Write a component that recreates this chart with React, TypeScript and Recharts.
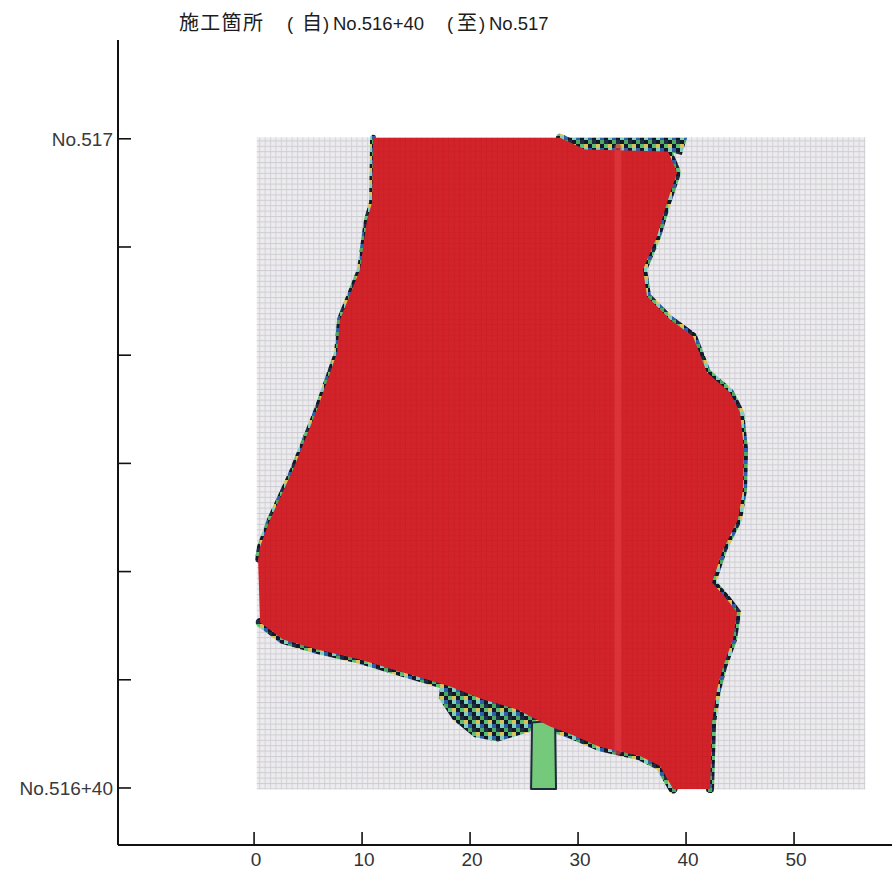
import React from 'react';
import { ScatterChart, Scatter, XAxis, YAxis } from 'recharts';

// ---- axis ticks & labels ----
const xTicks = [0, 10, 20, 30, 40, 50];
const yTicks = [0, 10, 20, 30, 40, 50, 60];
const yTickLabels = ['No.516+40', '', '', '', '', '', 'No.517'];
const titleParts = ['施工箇所', '(', '自', ')', 'No.516+40', '(', '至', ')', 'No.517'];

// ---- measured area (grey mesh) ----
const gridX = [0.25, 56.6, 56.6, 0.25];
const gridY = [-0.15, -0.15, 60.15, 60.15];

// ---- compacted region outline (red) ----
const redX = [11.02, 28.33, 30.65, 38.33, 39.17, 38.24, 37.31, 36.02, 36.39, 38.52, 40.65, 41.94, 44.07, 45.0, 45.37, 45.28, 44.81, 43.43, 42.41, 43.8, 44.72, 44.35, 43.43, 42.87, 42.41, 42.22, 38.8, 37.59, 35.74, 32.04, 29.26, 27.41, 24.35, 21.2, 18.15, 16.02, 12.87, 9.81, 5.83, 2.69, 0.56, 0.37, 0.56, 1.48, 3.61, 5.83, 7.69, 7.96, 9.81, 10.46, 10.93];
const redY = [60.1, 60.1, 59.0, 58.83, 56.89, 54.11, 50.97, 47.92, 45.43, 43.3, 41.73, 38.4, 36.55, 34.7, 31.29, 27.59, 24.81, 22.04, 18.99, 17.42, 16.22, 13.73, 11.23, 9.11, 6.05, -0.1, -0.1, 2.03, 2.96, 3.79, 4.99, 5.68, 7.26, 8.18, 9.38, 10.03, 10.95, 11.88, 12.8, 13.72, 15.3, 21.12, 22.32, 24.81, 29.44, 34.98, 40.25, 43.3, 47.92, 52.54, 54.11];

// ---- mixed-colour patches (under-compacted cells) ----
const topPatchX = [28.33, 40.1, 39.6, 38.33, 30.65];
const topPatchY = [60.1, 60.1, 58.5, 58.83, 59.0];
const lowPatchX = [17.22, 24.63, 26.02, 25.56, 22.6, 20.4, 18.4, 17.1];
const lowPatchY = [9.29, 7.07, 6.15, 5.2, 4.3, 4.7, 6.3, 8.3];
const stemX = [25.74, 27.87, 27.96, 25.65];
const stemY = [6.05, 6.24, -0.1, -0.1];

// ---- lighter roller track inside red ----
const stripeX = [33.7, 33.7];
const stripeY = [3.4, 59.2];

const toPts = (xs: number[], ys: number[]) => xs.map((x, i) => ({ x, y: ys[i] }));

const gridPts = toPts(gridX, gridY);
const redPts = toPts(redX, redY);
const fringeA = redPts.slice(1, 26);
const fringeB = redPts.slice(26, 41);
const fringeC = [...redPts.slice(41), redPts[0]];
const topPatchPts = toPts(topPatchX, topPatchY);
const lowPatchPts = toPts(lowPatchX, lowPatchY);
const stemPts = toPts(stemX, stemY);
const stripePts = toPts(stripeX, stripeY);

const noDot = () => <g />;

const makeLine =
  (o: { fill: string; stroke?: string; strokeWidth?: number; close?: boolean; opacity?: number }) =>
  (props: any) => {
    const pts: { x: number; y: number }[] = props.points || [];
    if (pts.length < 2) return <g />;
    const d =
      pts.map((p, i) => `${i === 0 ? 'M' : 'L'}${p.x.toFixed(2)},${p.y.toFixed(2)}`).join(' ') +
      (o.close ? ' Z' : '');
    return (
      <path
        d={d}
        fill={o.fill}
        stroke={o.stroke ?? 'none'}
        strokeWidth={o.strokeWidth ?? 0}
        strokeLinejoin="round"
        strokeLinecap="round"
        opacity={o.opacity ?? 1}
      />
    );
  };

const XTick = (p: any) => {
  const { x, y, payload } = p;
  return (
    <g>
      <line x1={x} y1={y} x2={x} y2={y - 13} stroke="#111" strokeWidth={1.6} />
      <text
        x={x + 2}
        y={y + 21}
        textAnchor="middle"
        fontFamily="'Liberation Sans Narrow', 'Liberation Sans', Arial, sans-serif"
        fontSize={19}
        fill="#333"
      >
        {payload.value}
      </text>
    </g>
  );
};

const YTick = (p: any) => {
  const { x, y, payload } = p;
  const idx = yTicks.indexOf(payload.value);
  const label = idx >= 0 ? yTickLabels[idx] : '';
  return (
    <g>
      <line x1={x} y1={y} x2={x + 13} y2={y} stroke="#111" strokeWidth={1.6} />
      {label ? (
        <text
          x={x - 5}
          y={y + 7}
          textAnchor="end"
          fontFamily="'Liberation Sans', Arial, sans-serif"
          fontSize={19}
          fill="#3a3a3a"
        >
          {label}
        </text>
      ) : null}
    </g>
  );
};

const titleX = [179, 287, 302, 323, 333, 447, 457, 479, 489];

export default function App() {
  return (
    <div style={{ position: 'absolute', left: 0, top: 0, width: 892, height: 876, background: '#fff' }}>
      <svg width={0} height={0} style={{ position: 'absolute' }}>
        <defs>
          <pattern id="bgGrid" patternUnits="userSpaceOnUse" width={5.4} height={5.4}>
            <rect width={5.4} height={5.4} fill="#ecebee" />
            <rect x={0} y={0} width={1} height={5.4} fill="#d4d2d7" />
            <rect x={0} y={0} width={5.4} height={1} fill="#cfcdd3" />
          </pattern>
          <pattern id="redCells" patternUnits="userSpaceOnUse" width={5.4} height={5.4}>
            <rect width={5.4} height={5.4} fill="#d3232a" />
            <rect x={0} y={0} width={1} height={5.4} fill="#c91f27" />
            <rect x={0} y={0} width={5.4} height={1} fill="#cc2027" />
          </pattern>
          <pattern id="fringe" patternUnits="userSpaceOnUse" width={12} height={12}>
            <rect x={0} y={0} width={4} height={4} fill="#121a2a" />
            <rect x={4} y={0} width={4} height={4} fill="#5cbf74" />
            <rect x={8} y={0} width={4} height={4} fill="#d8c25a" />
            <rect x={0} y={4} width={4} height={4} fill="#2f5fa8" />
            <rect x={4} y={4} width={4} height={4} fill="#121a2a" />
            <rect x={8} y={4} width={4} height={4} fill="#7fcfbf" />
            <rect x={0} y={8} width={4} height={4} fill="#4aa860" />
            <rect x={4} y={8} width={4} height={4} fill="#1e2c46" />
            <rect x={8} y={8} width={4} height={4} fill="#121a2a" />
          </pattern>
        </defs>
      </svg>
      <ScatterChart width={892} height={876} margin={{ top: 40, right: 0, bottom: 0, left: 0 }}>
        <XAxis
          type="number"
          dataKey="x"
          domain={[-12.6, 59.07]}
          ticks={xTicks}
          interval={0}
          allowDataOverflow
          height={31}
          tickSize={0}
          tickMargin={0}
          tickLine={false}
          tick={(p: any) => <XTick {...p} />}
          axisLine={{ stroke: '#111', strokeWidth: 2 }}
        />
        <YAxis
          type="number"
          dataKey="y"
          domain={[-5.27, 69.13]}
          ticks={yTicks}
          interval={0}
          allowDataOverflow
          width={118}
          tickSize={0}
          tickMargin={0}
          tickLine={false}
          tick={(p: any) => <YTick {...p} />}
          axisLine={{ stroke: '#111', strokeWidth: 2 }}
        />
        <Scatter data={gridPts} isAnimationActive={false} shape={noDot} line={makeLine({ fill: 'url(#bgGrid)', close: true })} />
        <Scatter data={fringeA} isAnimationActive={false} shape={noDot} line={makeLine({ fill: 'none', stroke: 'url(#fringe)', strokeWidth: 8 })} />
        <Scatter data={fringeB} isAnimationActive={false} shape={noDot} line={makeLine({ fill: 'none', stroke: 'url(#fringe)', strokeWidth: 9 })} />
        <Scatter data={fringeC} isAnimationActive={false} shape={noDot} line={makeLine({ fill: 'none', stroke: 'url(#fringe)', strokeWidth: 6 })} />
        <Scatter data={topPatchPts} isAnimationActive={false} shape={noDot} line={makeLine({ fill: 'url(#fringe)', close: true })} />
        <Scatter data={lowPatchPts} isAnimationActive={false} shape={noDot} line={makeLine({ fill: 'url(#fringe)', close: true })} />
        <Scatter data={stemPts} isAnimationActive={false} shape={noDot} line={makeLine({ fill: '#74c97a', stroke: '#1e2c3a', strokeWidth: 2, close: true })} />
        <Scatter data={redPts} isAnimationActive={false} shape={noDot} line={makeLine({ fill: 'url(#redCells)', close: true })} />
        <Scatter data={stripePts} isAnimationActive={false} shape={noDot} line={makeLine({ fill: 'none', stroke: '#de3a40', strokeWidth: 7, opacity: 0.7 })} />
      </ScatterChart>
      <svg width={892} height={60} style={{ position: 'absolute', left: 0, top: 0, pointerEvents: 'none' }}>
        <text y={30} fill="#1c1c1c" fontFamily="'Liberation Sans', 'Noto Sans CJK JP', sans-serif" fontSize={18.5}>
          {titleParts.map((t, i) => (
            <tspan
              key={i}
              x={titleX[i]}
              fontFamily={/[A-Za-z0-9()+.]/.test(t) ? "'Liberation Sans', sans-serif" : "'Noto Sans CJK JP', sans-serif"}
              fontSize={/[A-Za-z0-9()+.]/.test(t) ? 18.5 : 20}
              letterSpacing={t.length === 4 && !/[A-Za-z]/.test(t) ? 1.3 : 0}
            >
              {t}
            </tspan>
          ))}
        </text>
      </svg>
    </div>
  );
}
